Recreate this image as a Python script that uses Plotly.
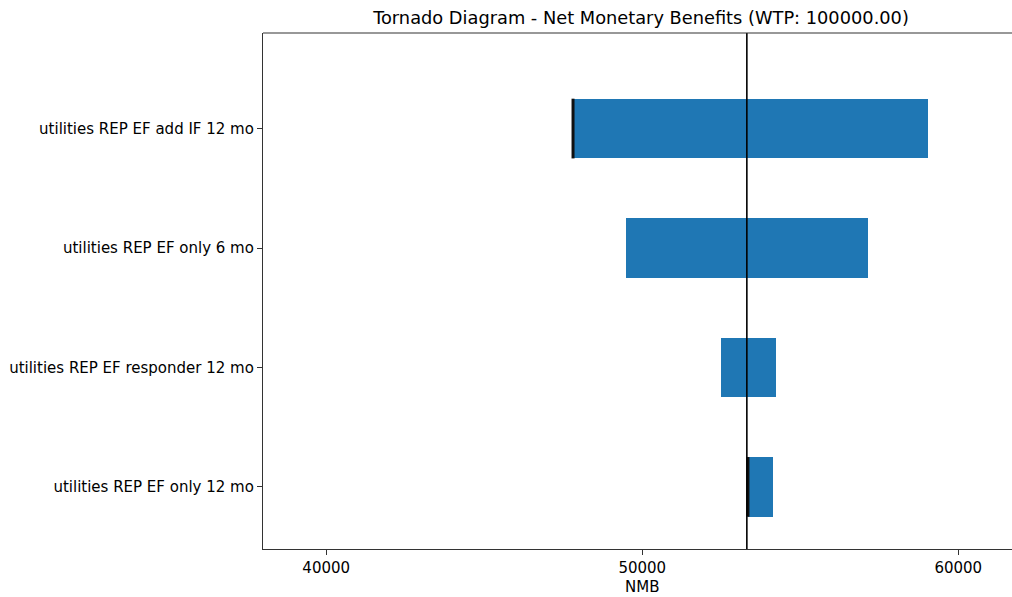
import plotly.graph_objects as go

# Data
categories = [
    "utilities REP EF add IF 12 mo",
    "utilities REP EF only 6 mo",
    "utilities REP EF responder 12 mo",
    "utilities REP EF only 12 mo",
]
low_values = [47810, 49485, 52490, 53345]
high_values = [59035, 57135, 54225, 54130]
edge_marked = [True, False, False, True]
base_value = 53310
x_ticks = [40000, 50000, 60000]
x_range = [38000, 61700]

W, H = 1012, 597
M_T, M_B = 33, 597 - 549
PLOT_H = H - M_T - M_B

n = len(categories)
y_pos = [n - 1 - i for i in range(n)]

fig = go.Figure()
fig.add_trace(go.Bar(
    y=y_pos,
    x=[h - l for l, h in zip(low_values, high_values)],
    base=low_values,
    orientation="h",
    width=0.5,
    marker=dict(color="#1f77b4", line=dict(width=0)),
    showlegend=False,
    hoverinfo="skip",
))

for yp, lo, mark in zip(y_pos, low_values, edge_marked):
    if mark:
        fig.add_trace(go.Scatter(
            x=[lo, lo], y=[yp - 0.25, yp + 0.25], mode="lines",
            line=dict(color="#111111", width=3), showlegend=False, hoverinfo="skip",
        ))

fig.add_shape(type="line", xref="x", yref="paper", x0=base_value, x1=base_value,
              y0=0, y1=1, line=dict(color="black", width=1.6))
fig.add_shape(type="line", xref="paper", yref="paper", x0=0, x1=1, y0=1, y1=1,
              line=dict(color="#333333", width=1.2))

fig.add_annotation(text="NMB", x=(x_range[0] + 62000) / 2, xref="x",
                   y=-(587 - 549) / PLOT_H, yref="paper",
                   showarrow=False, yanchor="middle",
                   font=dict(family="DejaVu Sans", size=15, color="black"))

fig.update_layout(
    width=W, height=H,
    margin=dict(l=263, r=0, t=M_T, b=M_B, pad=0),
    plot_bgcolor="white", paper_bgcolor="white",
    title=dict(text="Tornado Diagram - Net Monetary Benefits (WTP: 100000.00)",
               x=641 / W, xref="container", xanchor="center",
               y=1 - 18 / H, yref="container", yanchor="middle",
               font=dict(family="DejaVu Sans", size=17.8, color="black")),
    font=dict(family="DejaVu Sans", size=15, color="black"),
    bargap=0,
)
fig.update_xaxes(range=x_range, tickvals=x_ticks, ticktext=[str(t) for t in x_ticks],
                 showgrid=False, zeroline=False, showline=True, linecolor="#333333",
                 linewidth=1.2, ticks="outside", ticklen=5, tickcolor="#333333",
                 tickfont=dict(family="DejaVu Sans", size=15, color="black"))
fig.update_yaxes(range=[-0.52, n - 1 + 0.8], tickvals=y_pos, ticktext=categories,
                 showgrid=False, zeroline=False, showline=True, linecolor="#333333",
                 linewidth=1.2, ticks="outside", ticklen=5, tickcolor="#333333",
                 tickfont=dict(family="DejaVu Sans", size=15, color="black"))

fig.write_html(
    "out.html",
    config={"displayModeBar": False},
    post_script="document.body.style.margin='0';document.body.style.overflow='hidden';",
)
